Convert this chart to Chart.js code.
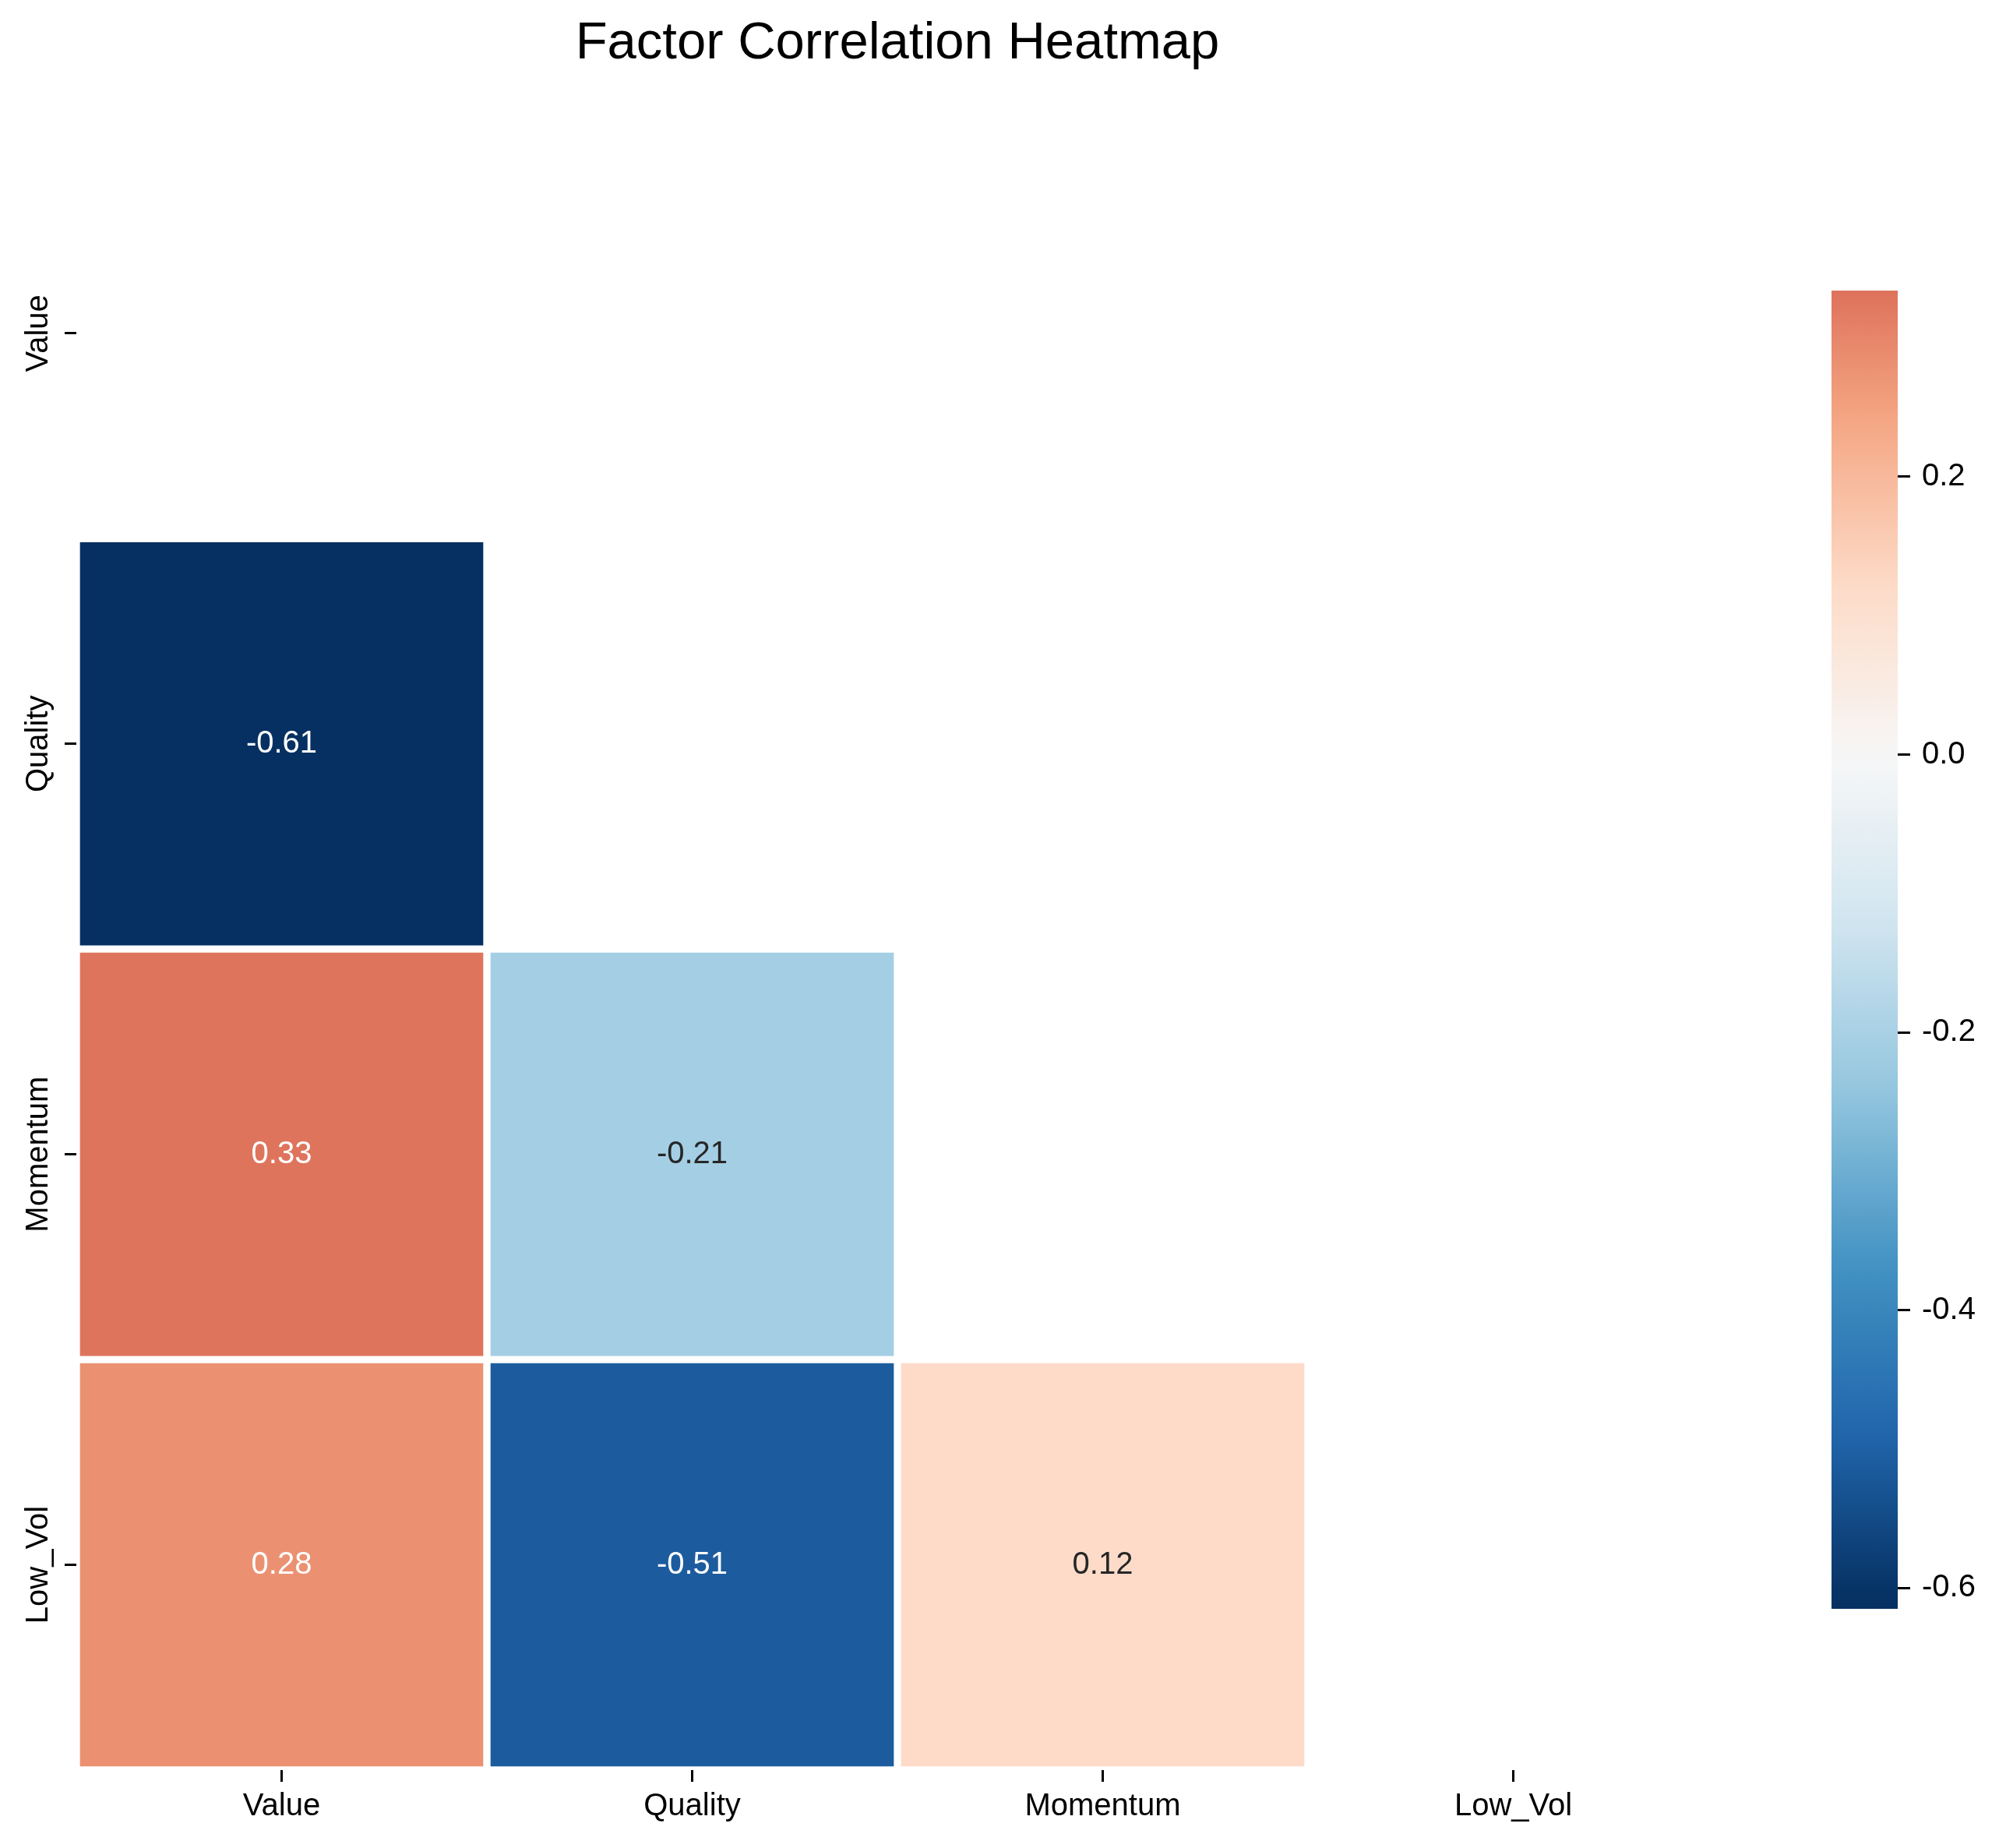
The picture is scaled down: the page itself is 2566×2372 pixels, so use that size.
<!DOCTYPE html>
<html>
<head>
<meta charset="utf-8">
<title>Factor Correlation Heatmap</title>
<script src="https://cdn.jsdelivr.net/npm/chart.js@4.4.1/dist/chart.umd.min.js"></script>
<style>
  html, body { margin: 0; padding: 0; background: #fff; overflow: hidden; }
  #wrap { position: relative; width: 2566px; height: 2372px; }
  #heatmap { position: absolute; left: 0; top: 0; }
  #cbar { position: absolute; left: 2351px; top: 0; }
</style>
</head>
<body>
<div id="wrap">
  <canvas id="heatmap" width="2566" height="2372"></canvas>
  <canvas id="cbar" width="215" height="2372"></canvas>
</div>
<script>
// Data (lower triangle of the correlation matrix, diagonal and upper part masked)
const chartTitle = 'Factor Correlation Heatmap';
const factors = ['Value', 'Quality', 'Momentum', 'Low_Vol'];
const corrQuality = [-0.61];
const corrMomentum = [0.33, -0.21];
const corrLowVol = [0.28, -0.51, 0.12];

// colorbar range and ticks
const cbMin = -0.615;
const cbMax = 0.334;
const cbTicks = [-0.6, -0.4, -0.2, 0.0, 0.2];

const rows = [
    { row: 1, values: corrQuality },
    { row: 2, values: corrMomentum },
    { row: 3, values: corrLowVol }
];

Chart.defaults.font.family = '"Liberation Sans", Arial, sans-serif';
Chart.defaults.color = '#000';

// RdBu_r colormap (colorbrewer stops), centered at 0
const rdbuR = ['#053061', '#2166ac', '#4393c3', '#92c5de', '#d1e5f0', '#f7f7f7',
               '#fddbc7', '#f4a582', '#d6604d', '#b2182b', '#67001f'];

function hexToRgb(h) {
    return [parseInt(h.slice(1, 3), 16), parseInt(h.slice(3, 5), 16), parseInt(h.slice(5, 7), 16)];
}

function cmapRgb(t) {
    t = Math.max(0, Math.min(1, t));
    let p = t * 10;
    let i = Math.min(9, Math.floor(p));
    let f = p - i;
    let a = hexToRgb(rdbuR[i]), b = hexToRgb(rdbuR[i + 1]);
    return [0, 1, 2].map(k => Math.round(a[k] + (b[k] - a[k]) * f));
}

const allVals = [].concat(corrQuality, corrMomentum, corrLowVol);
const vRange = Math.max(-Math.min(...allVals), Math.max(...allVals));

function colorFor(v) {
    let c = cmapRgb((v + vRange) / (2 * vRange));
    return `rgb(${c[0]},${c[1]},${c[2]})`;
}

// same rule as seaborn for the annotation colour
function textColorFor(v) {
    let c = cmapRgb((v + vRange) / (2 * vRange)).map(x => {
        x = x / 255;
        return x <= 0.03928 ? x / 12.92 : Math.pow((x + 0.055) / 1.055, 2.4);
    });
    let lum = 0.2126 * c[0] + 0.7152 * c[1] + 0.0722 * c[2];
    return lum > 0.408 ? '#262626' : '#ffffff';
}

const datasets = rows.map(r => ({
    label: factors[r.row],
    values: r.values,
    data: r.values.map((v, c) => ({ x: factors[c], y: [r.row - 0.5, r.row + 0.5] })),
    backgroundColor: r.values.map(v => colorFor(v)),
    borderColor: '#ffffff',
    borderWidth: 5,
    borderSkipped: false,
    grouped: false,
    barPercentage: 1,
    categoryPercentage: 1
}));

// cell annotations
const annotatePlugin = {
    id: 'annotate',
    afterDatasetsDraw(chart) {
        const ctx = chart.ctx;
        ctx.save();
        ctx.font = '40px "Liberation Sans", Arial, sans-serif';
        ctx.textAlign = 'center';
        ctx.textBaseline = 'middle';
        chart.data.datasets.forEach((ds, di) => {
            chart.getDatasetMeta(di).data.forEach((bar, i) => {
                const v = ds.values[i];
                const p = bar.getCenterPoint();
                ctx.fillStyle = textColorFor(v);
                ctx.fillText(v.toFixed(2), p.x, p.y);
            });
        });
        ctx.restore();
    }
};

// rotated row labels on the left axis
const rowLabelPlugin = {
    id: 'rowLabels',
    afterDraw(chart) {
        const ctx = chart.ctx;
        const yScale = chart.scales.y;
        ctx.save();
        ctx.font = '40px "Liberation Sans", Arial, sans-serif';
        ctx.fillStyle = '#000';
        ctx.textAlign = 'center';
        ctx.textBaseline = 'alphabetic';
        factors.forEach((f, i) => {
            ctx.save();
            ctx.translate(61, yScale.getPixelForValue(i));
            ctx.rotate(-Math.PI / 2);
            ctx.fillText(f, 0, 0);
            ctx.restore();
        });
        ctx.restore();
    }
};

const tickGrid = {
    drawOnChartArea: false,
    drawTicks: true,
    tickLength: 15,
    color: '#000',
    lineWidth: 3
};

new Chart(document.getElementById('heatmap'), {
    type: 'bar',
    data: { labels: factors, datasets: datasets },
    plugins: [annotatePlugin, rowLabelPlugin],
    options: {
        responsive: false,
        devicePixelRatio: 1,
        animation: false,
        layout: { padding: { left: 0, right: 262, top: 0, bottom: 0 } },
        plugins: {
            legend: { display: false },
            tooltip: { enabled: false },
            title: {
                display: true,
                text: chartTitle,
                color: '#000',
                font: { size: 67, weight: 'normal' },
                padding: { top: 16, bottom: 68 }
            }
        },
        scales: {
            x: {
                type: 'category',
                offset: true,
                grid: Object.assign({ offset: false }, tickGrid),
                border: { display: false },
                ticks: { font: { size: 40 }, color: '#000', padding: 8, minRotation: 0, maxRotation: 0, autoSkip: false },
                afterFit: s => { s.height = 100; }
            },
            y: {
                type: 'linear',
                reverse: true,
                min: -0.5,
                max: 3.5,
                afterBuildTicks: s => { s.ticks = factors.map((f, i) => ({ value: i })); },
                ticks: { display: false },
                grid: tickGrid,
                border: { display: false },
                afterFit: s => { s.width = 98; }
            },
            yPad: {
                type: 'linear',
                position: 'right',
                grid: { display: false },
                ticks: { display: false },
                border: { display: false },
                afterFit: s => { s.width = 98; }
            }
        }
    }
});

// Colorbar
function cbarGradient(context) {
    const chart = context.chart;
    const area = chart.chartArea;
    if (!area) return '#cccccc';
    const g = chart.ctx.createLinearGradient(0, area.bottom, 0, area.top);
    const n = 64;
    for (let k = 0; k <= n; k++) {
        const v = cbMin + (cbMax - cbMin) * k / n;
        g.addColorStop(k / n, colorFor(v));
    }
    return g;
}

new Chart(document.getElementById('cbar'), {
    type: 'bar',
    data: {
        labels: ['cbar'],
        datasets: [{
            data: [[cbMin, cbMax]],
            backgroundColor: cbarGradient,
            borderWidth: 0,
            barPercentage: 1,
            categoryPercentage: 1
        }]
    },
    options: {
        responsive: false,
        devicePixelRatio: 1,
        animation: false,
        layout: { padding: { left: 0, right: 0, top: 373, bottom: 307 } },
        plugins: { legend: { display: false }, tooltip: { enabled: false } },
        scales: {
            x: { display: false },
            y: {
                position: 'right',
                min: cbMin,
                max: cbMax,
                afterBuildTicks: s => { s.ticks = cbTicks.map(v => ({ value: v })); },
                ticks: { callback: v => v.toFixed(1), font: { size: 40 }, color: '#000', padding: 15 },
                grid: { drawOnChartArea: false, drawTicks: true, tickLength: 16, color: '#000', lineWidth: 3 },
                border: { display: false },
                afterFit: s => { s.width = 130; }
            }
        }
    }
});
</script>
</body>
</html>
